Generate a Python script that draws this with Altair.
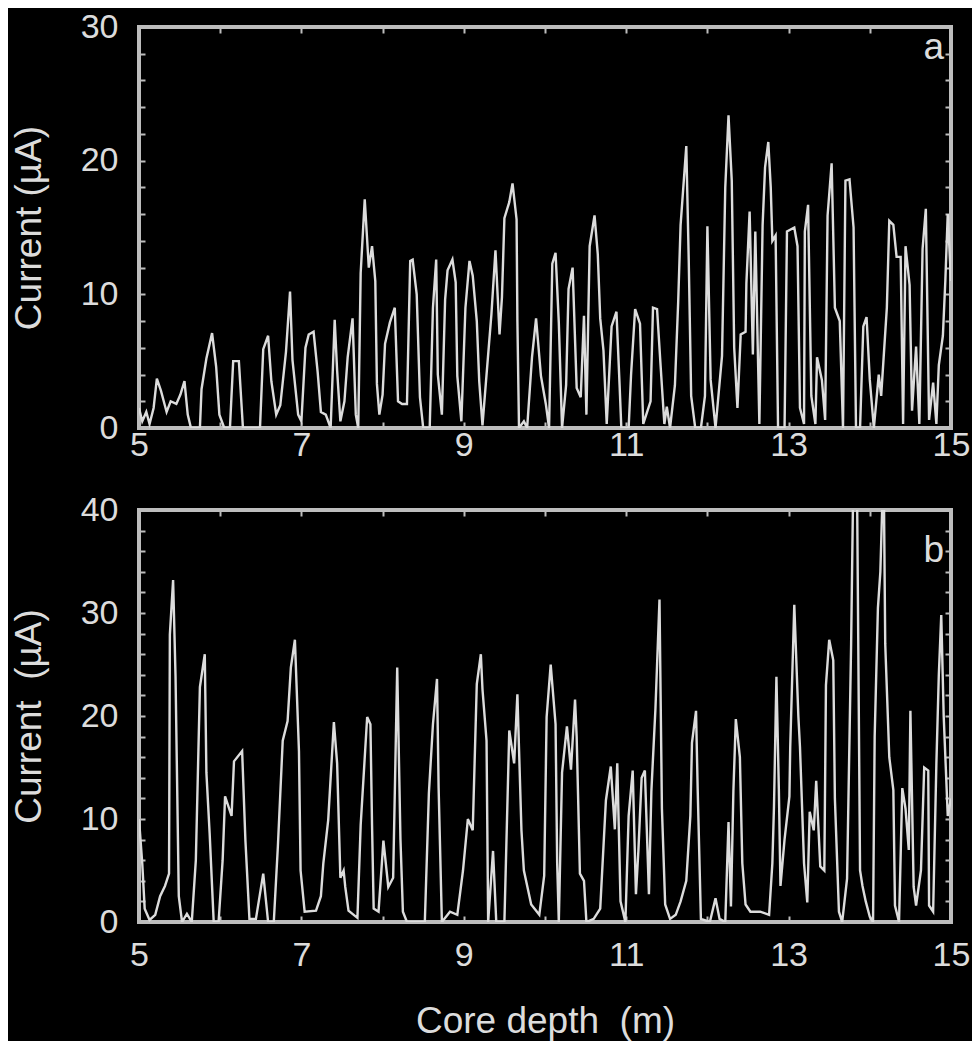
import altair as alt
import pandas as pd

# ---- panel a: core depth (m) / current (µA) ----
depth_a = [
    5.00, 5.04, 5.09, 5.13, 5.18, 5.22, 5.27, 5.34, 5.39, 5.46,
    5.51, 5.56, 5.60, 5.64, 5.75, 5.77, 5.83, 5.90, 5.95, 5.99,
    6.05, 6.12, 6.16, 6.23, 6.28, 6.49, 6.53, 6.59, 6.63, 6.69,
    6.74, 6.81, 6.86, 6.89, 6.96, 7.00, 7.05, 7.09, 7.15, 7.20,
    7.24, 7.30, 7.36, 7.41, 7.44, 7.48, 7.53, 7.57, 7.63, 7.67,
    7.70, 7.73, 7.78, 7.83, 7.87, 7.91, 7.93, 7.96, 8.00, 8.03,
    8.09, 8.15, 8.19, 8.24, 8.30, 8.34, 8.37, 8.42, 8.46, 8.50,
    8.58, 8.62, 8.66, 8.68, 8.73, 8.77, 8.80, 8.86, 8.90, 8.92,
    8.97, 9.02, 9.07, 9.11, 9.16, 9.19, 9.23, 9.28, 9.34, 9.39,
    9.44, 9.47, 9.50, 9.56, 9.60, 9.65, 9.66, 9.68, 9.74, 9.78,
    9.84, 9.89, 9.95, 10.01, 10.05, 10.09, 10.13, 10.17, 10.21, 10.26,
    10.29, 10.34, 10.39, 10.44, 10.48, 10.51, 10.55, 10.61, 10.65, 10.68,
    10.72, 10.76, 10.82, 10.88, 10.92, 10.94, 11.03, 11.06, 11.11, 11.17,
    11.21, 11.30, 11.33, 11.38, 11.42, 11.47, 11.50, 11.54, 11.60, 11.64,
    11.67, 11.74, 11.77, 11.80, 11.85, 11.92, 11.97, 12.00, 12.04, 12.10,
    12.18, 12.22, 12.26, 12.30, 12.33, 12.37, 12.41, 12.47, 12.48, 12.52,
    12.56, 12.59, 12.64, 12.68, 12.71, 12.75, 12.78, 12.80, 12.84, 12.87,
    12.95, 12.98, 13.07, 13.11, 13.14, 13.19, 13.20, 13.24, 13.28, 13.33,
    13.35, 13.41, 13.45, 13.48, 13.53, 13.57, 13.63, 13.67, 13.70, 13.75,
    13.80, 13.83, 13.88, 13.92, 13.96, 14.00, 14.05, 14.11, 14.14, 14.21,
    14.24, 14.29, 14.33, 14.38, 14.41, 14.44, 14.49, 14.52, 14.57, 14.61,
    14.65, 14.69, 14.73, 14.78, 14.82, 14.85, 14.90, 14.93, 14.96, 15.00,
]
current_a = [
    1.5, 0.5, 1.2, 0.3, 1.5, 3.7, 2.8, 1.2, 2.0, 1.8,
    2.5, 3.5, 1.0, 0, 0, 2.9, 5.2, 7.1, 4.6, 1.0,
    0, 0, 5.0, 5.0, 0, 0, 5.9, 6.9, 3.5, 1.0,
    1.7, 5.7, 10.2, 5.1, 1.0, 0.5, 6.0, 7.0, 7.2, 4.2,
    1.2, 1.0, 0, 8.1, 4.3, 0.5, 2.0, 5.3, 8.2, 1.0,
    0, 11.6, 17.1, 12.0, 13.6, 11.0, 3.3, 1.0, 2.5, 6.3,
    7.9, 9.0, 2.0, 1.8, 1.8, 12.5, 12.6, 10.0, 2.3, 0,
    0, 9.0, 12.6, 4.0, 1.0, 9.6, 11.8, 12.6, 10.9, 3.9,
    0.5, 9.0, 12.5, 11.4, 8.0, 3.5, 0.2, 4.0, 8.5, 13.3,
    7.0, 9.8, 15.7, 16.9, 18.3, 15.6, 8.0, 0, 0.5, 0,
    5.3, 8.2, 3.9, 1.8, 0, 12.3, 13.1, 7.9, 0, 3.2,
    10.4, 12.0, 3.0, 2.3, 8.4, 1.0, 13.6, 15.9, 13.0, 8.2,
    5.8, 0.3, 7.6, 8.7, 3.0, 0, 0, 4.0, 8.9, 7.8,
    0.3, 2.0, 9.0, 8.9, 5.0, 0.3, 1.6, 0, 3.2, 9.4,
    15.2, 21.1, 12.6, 2.4, 0, 0, 2.4, 15.1, 3.6, 0,
    5.4, 18.0, 23.4, 18.5, 6.0, 1.5, 7.0, 7.2, 10.8, 16.2,
    5.5, 14.7, 0.3, 15.2, 19.5, 21.4, 18.0, 14.0, 14.4, 0,
    0, 14.7, 15.0, 13.6, 1.5, 0.3, 14.7, 16.7, 2.4, 0.3,
    5.3, 3.6, 0.6, 15.9, 19.8, 9.0, 8.0, 0, 18.5, 18.6,
    15.0, 0, 0, 7.6, 8.3, 3.6, 0, 4.0, 2.4, 9.0,
    15.5, 15.2, 12.8, 12.8, 0.3, 13.6, 10.7, 1.3, 6.1, 0.3,
    13.4, 16.4, 0.6, 3.4, 0.3, 4.7, 6.9, 11.0, 16.0, 11.0,
]

# ---- panel b ----
depth_b = [
    5.00, 5.04, 5.07, 5.13, 5.20, 5.26, 5.32, 5.37, 5.38, 5.42,
    5.45, 5.49, 5.53, 5.59, 5.65, 5.70, 5.75, 5.81, 5.83, 5.87,
    5.92, 5.98, 6.03, 6.06, 6.14, 6.17, 6.27, 6.31, 6.36, 6.44,
    6.53, 6.59, 6.66, 6.71, 6.77, 6.83, 6.87, 6.92, 6.97, 6.99,
    7.04, 7.18, 7.24, 7.27, 7.33, 7.40, 7.44, 7.48, 7.52, 7.54,
    7.58, 7.69, 7.73, 7.81, 7.85, 7.87, 7.89, 7.95, 8.01, 8.07,
    8.13, 8.18, 8.22, 8.25, 8.30, 8.52, 8.57, 8.62, 8.67, 8.69,
    8.73, 8.83, 8.92, 8.99, 9.05, 9.11, 9.16, 9.21, 9.23, 9.28,
    9.30, 9.36, 9.40, 9.50, 9.56, 9.62, 9.66, 9.71, 9.74, 9.83,
    9.93, 9.99, 10.02, 10.07, 10.13, 10.15, 10.17, 10.21, 10.27, 10.32,
    10.37, 10.39, 10.43, 10.48, 10.51, 10.60, 10.68, 10.75, 10.81, 10.86,
    10.89, 10.93, 10.99, 11.03, 11.08, 11.12, 11.15, 11.19, 11.23, 11.28,
    11.31, 11.36, 11.41, 11.44, 11.48, 11.54, 11.61, 11.67, 11.74, 11.79,
    11.81, 11.86, 11.88, 11.92, 12.03, 12.10, 12.15, 12.22, 12.26, 12.29,
    12.32, 12.35, 12.40, 12.43, 12.47, 12.53, 12.65, 12.76, 12.80, 12.82,
    12.85, 12.88, 12.90, 12.95, 13.01, 13.02, 13.07, 13.12, 13.14, 13.19,
    13.23, 13.26, 13.31, 13.34, 13.39, 13.44, 13.46, 13.50, 13.55, 13.57,
    13.62, 13.66, 13.72, 13.77, 13.80, 13.84, 13.88, 13.91, 13.95, 14.00,
    14.04, 14.06, 14.10, 14.13, 14.17, 14.19, 14.24, 14.29, 14.31, 14.36,
    14.40, 14.44, 14.48, 14.50, 14.54, 14.57, 14.63, 14.67, 14.72, 14.73,
    14.78, 14.82, 14.85, 14.88, 14.91, 14.96, 15.00,
]
current_b = [
    10.0, 5.7, 1.3, 0.2, 0.7, 2.5, 3.5, 4.7, 27.9, 33.2,
    23.8, 2.5, 0, 0.8, 0, 6.0, 22.8, 26.0, 14.5, 8.6,
    0, 0, 6.0, 12.2, 10.3, 15.6, 16.6, 8.0, 0.3, 0.3,
    4.7, 0, 0, 7.3, 17.6, 19.5, 24.7, 27.4, 16.6, 5.0,
    1.0, 1.1, 2.5, 5.7, 9.9, 19.4, 15.4, 4.3, 5.0, 3.4,
    1.1, 0.4, 9.4, 19.9, 19.2, 9.4, 1.3, 1.0, 7.9, 3.4,
    4.3, 24.7, 8.0, 1.0, 0, 0, 12.5, 19.2, 23.6, 13.0,
    0, 1.0, 0.7, 5.0, 10.0, 8.9, 23.1, 26.0, 22.6, 17.6,
    0, 6.9, 0, 0, 18.6, 15.4, 22.1, 8.9, 5.0, 1.7,
    0.7, 4.5, 19.9, 25.0, 19.2, 5.7, 0, 14.5, 19.0, 14.8,
    21.6, 18.0, 4.7, 4.0, 0, 0.3, 1.3, 11.8, 15.1, 9.0,
    15.4, 2.0, 0, 10.3, 14.7, 2.7, 6.9, 14.0, 14.7, 2.7,
    12.7, 20.7, 31.3, 11.0, 1.7, 0.3, 0.7, 2.0, 4.0, 10.3,
    17.4, 20.5, 13.0, 0.3, 0, 2.3, 0.3, 0, 9.7, 1.5,
    12.7, 19.7, 16.0, 5.7, 1.7, 1.0, 1.0, 0.7, 5.7, 11.2,
    23.8, 12.9, 3.5, 8.0, 12.2, 17.0, 30.8, 20.0, 17.0, 5.7,
    1.9, 10.7, 8.9, 13.7, 5.4, 5.0, 23.0, 27.4, 25.4, 12.0,
    1.0, 0, 4.2, 27.0, 45.0, 45.0, 5.0, 3.5, 2.0, 0.5,
    0, 18.0, 30.5, 34.0, 45.0, 27.0, 16.0, 12.8, 1.6, 0,
    13.0, 11.0, 7.0, 20.5, 3.4, 1.6, 5.0, 15.0, 14.7, 1.6,
    1.0, 15.4, 24.0, 29.8, 20.0, 10.3, 12.0,
]

x_labels = [5, 7, 9, 11, 13, 15]
x_minor = [5, 6, 7, 8, 9, 10, 11, 12, 13, 14, 15]
ya_labels = [0, 10, 20, 30]
ya_minor = list(range(0, 31, 2))
yb_labels = [0, 10, 20, 30, 40]
yb_minor = list(range(0, 41, 2))
panel_letters = ["a", "b"]
y_titles = ["Current (µA)", "Current\u00a0 (µA)"]
x_title = "Core depth\u00a0 (m)"

FONT = "Liberation Sans"
FG = "#dcdcdc"
FRAME = "#bdbdbd"
W = 812
LABEL_FS = 34


def panel(depth, current, ymax, ylabels, yminor, ytitle, letter, letter_y,
          h, xlab_pad, xtitle=None):
    df = pd.DataFrame({"depth": depth, "current": current})
    xs = alt.Scale(domain=[5, 15], nice=False, zero=False)
    ys = alt.Scale(domain=[0, ymax], nice=False)

    xkw = dict(values=x_labels, ticks=False, tickSize=0, domain=False, grid=False,
               labelFont=FONT, labelFontSize=LABEL_FS, labelColor=FG,
               labelPadding=xlab_pad, labelFlush=False, labelOverlap=False)
    if xtitle:
        xkw.update(title=xtitle, titleFont=FONT, titleFontSize=37, titleColor=FG,
                   titleFontWeight="normal", titlePadding=31)
    else:
        xkw.update(title=None)

    line = alt.Chart(df).mark_line(color=FG, strokeWidth=2.4, clip=True).encode(
        x=alt.X("depth:Q", scale=xs, axis=alt.Axis(**xkw)),
        y=alt.Y("current:Q", scale=ys, axis=alt.Axis(
            values=ylabels, ticks=False, tickSize=0, domain=False, grid=False,
            labelFont=FONT, labelFontSize=LABEL_FS, labelColor=FG, labelPadding=21,
            labelFlush=False, labelOverlap=False,
            title=ytitle, titleFont=FONT, titleFontSize=37, titleColor=FG,
            titleFontWeight="normal", titlePadding=32)),
    )

    def tick_layer(xo, yo):
        return alt.Chart(df).mark_line(opacity=0, clip=True).encode(
            x=alt.X("depth:Q", scale=xs, axis=alt.Axis(
                orient=xo, values=x_minor, labels=False, domain=False, grid=False,
                ticks=True, tickSize=6, offset=-6, tickColor=FRAME, tickWidth=2,
                title=None)),
            y=alt.Y("current:Q", scale=ys, axis=alt.Axis(
                orient=yo, values=yminor, labels=False, domain=False, grid=False,
                ticks=True, tickSize=6, offset=-6, tickColor=FRAME, tickWidth=2,
                title=None)),
        )

    txt = alt.Chart(pd.DataFrame({"t": [letter]})).mark_text(
        align="right", baseline="alphabetic", font=FONT, fontSize=37, color=FG
    ).encode(text="t:N", x=alt.value(W - 7), y=alt.value(letter_y))

    return alt.layer(line, tick_layer("top", "right"), tick_layer("bottom", "left"), txt
                     ).resolve_axis(x="independent", y="independent"
                     ).properties(width=W, height=h)


top = panel(depth_a, current_a, 30, ya_labels, ya_minor, y_titles[0],
            panel_letters[0], 32, 401, 0)
bottom = panel(depth_b, current_b, 40, yb_labels, yb_minor, y_titles[1],
               panel_letters[1], 52, 412, 16, x_title)

chart = alt.vconcat(top, bottom, spacing=27).properties(
    padding={"left": 0, "top": 0, "right": 0, "bottom": 0}
).configure(background="black").configure_view(
    stroke=FRAME, strokeWidth=4, fill="black"
)

chart.save("out.html", embed_options={"renderer": "svg", "actions": False})
